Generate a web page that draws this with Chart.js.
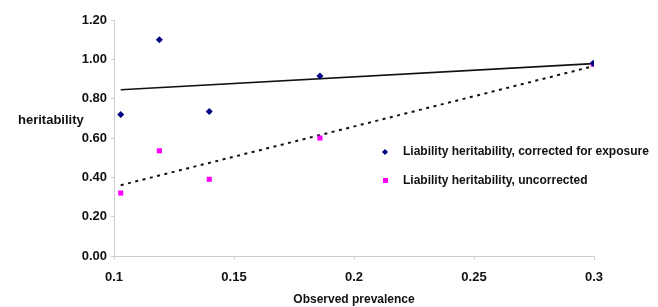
<!DOCTYPE html>
<html>
<head>
<meta charset="utf-8">
<script src="https://cdn.jsdelivr.net/npm/chart.js@4.4.0/dist/chart.umd.min.js"></script>
<style>
  html, body { margin: 0; padding: 0; background: #fff; }
  #wrap { width: 658px; height: 307px; position: relative; }
</style>
</head>
<body>
<div id="wrap"><canvas id="prevalence-chart"></canvas></div>
<script>
// Heritability vs observed prevalence
// ------------------------------
const prevalence = [0.1028, 0.1189, 0.1397, 0.1858, 0.2997];
const correctedH2 = [0.72, 1.10, 0.735, 0.915, 0.98];
const uncorrectedH2 = [0.32, 0.535, 0.39, 0.60, 0.975];

// trend line end points
const trendX = [0.1028, 0.2997];
const correctedTrend = [0.845, 0.978];
const uncorrectedTrend = [0.36, 0.965];

const xTicks = [0.1, 0.15, 0.2, 0.25, 0.3];
const yTicks = [0, 0.2, 0.4, 0.6, 0.8, 1.0, 1.2];

const legendLabels = ['Liability heritability, corrected for exposure', 'Liability heritability, uncorrected'];
const navy = '#000080';
const magenta = '#ff00ff';
const axisGrey = '#cfcfcf';
const fontFamily = '"Liberation Sans", Arial, Helvetica, sans-serif';

const toPoints = (xs, ys) => xs.map((x, i) => ({ x: x, y: ys[i] }));

// draws the horizontal y title and the legend inside the plot
const extrasPlugin = {
    id: 'extras',
    afterDraw(chart) {
        const ctx = chart.ctx;
        ctx.save();
        ctx.fillStyle = '#111';
        ctx.font = 'bold 13px ' + fontFamily;
        ctx.textBaseline = 'middle';
        ctx.textAlign = 'left';
        ctx.fillText('heritability', 18, 120);

        ctx.font = 'bold 12px ' + fontFamily;
        ctx.fillText(legendLabels[0], 403, 152);
        ctx.fillText(legendLabels[1], 403, 181);

        // legend markers
        ctx.fillStyle = navy;
        ctx.beginPath();
        ctx.moveTo(385, 149); ctx.lineTo(388, 152); ctx.lineTo(385, 155); ctx.lineTo(382, 152);
        ctx.closePath();
        ctx.fill();
        ctx.fillStyle = magenta;
        ctx.fillRect(383, 178, 5, 5);
        ctx.restore();
    }
};

const ctx = document.getElementById('prevalence-chart');

const chartData = {
    datasets: [
        {
            label: legendLabels[0],
            data: toPoints(prevalence, correctedH2),
            showLine: false,
            pointStyle: 'rectRot',
            pointRadius: 3.5,
            backgroundColor: navy,
            borderColor: navy,
            borderWidth: 0
        },
        {
            label: legendLabels[1],
            data: toPoints(prevalence, uncorrectedH2),
            showLine: false,
            pointStyle: 'rect',
            pointRadius: 3.6,
            backgroundColor: magenta,
            borderColor: magenta,
            borderWidth: 0
        },
        {
            label: 'trend corrected',
            data: toPoints(trendX, correctedTrend),
            showLine: true,
            pointRadius: 0,
            borderColor: '#111',
            borderWidth: 1.6,
            fill: false
        },
        {
            label: 'trend uncorrected',
            data: toPoints(trendX, uncorrectedTrend),
            showLine: true,
            pointRadius: 0,
            borderColor: '#111',
            borderWidth: 2,
            borderDash: [3, 4.5],
            fill: false
        }
    ]
};

const chartOptions = {
    responsive: true,
    maintainAspectRatio: false,
    animation: false,
    layout: { padding: { top: 20, right: 64, bottom: 0, left: 0 } },
    plugins: {
        legend: { display: false },
        tooltip: { enabled: false }
    },
    scales: {
        x: {
            type: 'linear',
            min: 0.1,
            max: 0.3,
            afterBuildTicks: (scale) => { scale.ticks = xTicks.map(v => ({ value: v })); },
            afterFit: (scale) => { scale.height = 51; },
            ticks: {
                color: '#111',
                font: { family: fontFamily, size: 13, weight: 'bold' },
                padding: 10,
                maxRotation: 0,
                callback: (v) => String(v)
            },
            grid: { drawOnChartArea: false, color: axisGrey, tickLength: 4 },
            border: { color: axisGrey },
            title: {
                display: true,
                text: 'Observed prevalence',
                color: '#111',
                font: { family: fontFamily, size: 12, weight: 'bold' },
                padding: { top: 5, bottom: 0 }
            }
        },
        y: {
            type: 'linear',
            min: 0,
            max: 1.2,
            afterBuildTicks: (scale) => { scale.ticks = yTicks.map(v => ({ value: v })); },
            afterFit: (scale) => { scale.width = 114; },
            ticks: {
                color: '#111',
                font: { family: fontFamily, size: 13, weight: 'bold' },
                padding: 4,
                callback: (v) => Number(v).toFixed(2)
            },
            grid: { drawOnChartArea: false, color: axisGrey, tickLength: 3 },
            border: { color: axisGrey }
        }
    }
};

new Chart(ctx, {
    type: 'scatter',
    data: chartData,
    options: chartOptions,
    plugins: [extrasPlugin]
});
</script>
</body>
</html>
